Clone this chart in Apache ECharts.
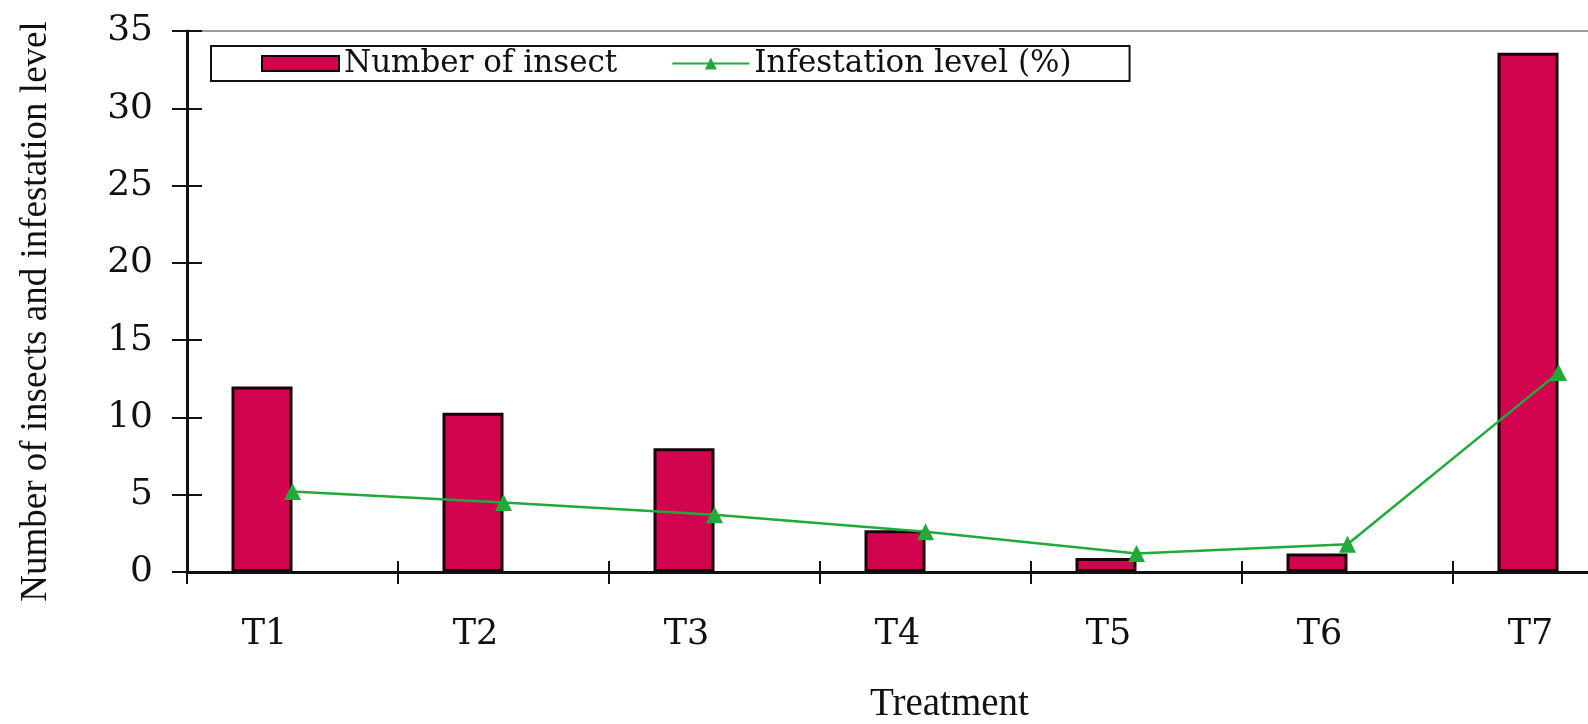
<!DOCTYPE html>
<html>
<head>
<meta charset="utf-8">
<script src="https://cdn.jsdelivr.net/npm/echarts@6/dist/echarts.min.js"></script>
<style>
  html, body { margin: 0; padding: 0; background: #ffffff; overflow: hidden; }
  /* the plot runs past the right edge of the page, so the last band is cut */
  #chart { width: 1664px; height: 724px; }
</style>
</head>
<body>
<div id="chart"></div>
<script>
// Treatments on the horizontal axis
const categories = ['T1', 'T2', 'T3', 'T4', 'T5', 'T6', 'T7'];
// Number of insects per treatment
const insectCounts = [12.0, 10.3, 8.0, 2.7, 0.9, 1.2, 33.6];
// Infestation level (%) per treatment
const infestationLevels = [5.2, 4.5, 3.7, 2.6, 1.2, 1.8, 12.9];
// Value axis range
const yMin = 0, yMax = 35, yStep = 5;

const serif = 'Liberation Serif';
const wideSerif = 'DejaVu Serif';
const barColor = '#D2044F';
const lineColor = '#1FAA3A';

const chart = echarts.init(document.getElementById('chart'));

chart.setOption({
  backgroundColor: '#ffffff',
  animation: false,
  grid: {
    left: 187, right: 0, top: 31, bottom: 152,
    containLabel: false,
    outerBoundsMode: 'none',
    show: true, borderColor: '#9a9a9a', borderWidth: 2, backgroundColor: 'transparent'
  },
  legend: {
    data: [
      { name: 'Number of insect', icon: 'rect' },
      { name: 'Infestation level (%)' }
    ],
    left: 211, top: 46,
    orient: 'horizontal',
    padding: [2, 58, 2, 50],
    itemGap: 54,
    itemWidth: 77, itemHeight: 15,
    borderColor: '#111', borderWidth: 2,
    backgroundColor: '#fff',
    textStyle: { fontFamily: wideSerif, fontSize: 31, color: '#111', lineHeight: 31 }
  },
  xAxis: [{
    type: 'category',
    data: categories,
    boundaryGap: true,
    name: 'Treatment',
    nameLocation: 'middle',
    nameGap: 113,
    nameTextStyle: { fontFamily: serif, fontSize: 39, color: '#111', padding: [0, 0, 0, 48] },
    axisLine: { show: true, lineStyle: { color: '#111', width: 3 } },
    axisTick: { show: true, inside: false, length: 12, lineStyle: { color: '#111', width: 2 } },
    axisLabel: { fontFamily: wideSerif, fontSize: 35, color: '#111', margin: 45, padding: [0, 56, 0, 0] },
    splitLine: { show: false }
  }, {
    // inner half of the crossing tick marks
    type: 'category',
    data: categories,
    position: 'bottom',
    boundaryGap: true,
    axisLine: { show: false },
    axisTick: { show: true, inside: true, length: 11, lineStyle: { color: '#111', width: 2 } },
    axisLabel: { show: false },
    splitLine: { show: false }
  }],
  yAxis: [{
    type: 'value',
    min: yMin, max: yMax, interval: yStep,
    name: 'Number of insects and infestation level',
    nameLocation: 'middle',
    nameGap: 132,
    nameRotate: 90,
    nameTextStyle: { fontFamily: serif, fontSize: 37, color: '#111', padding: [0, 20, 0, 0] },
    axisLine: { show: true, lineStyle: { color: '#111', width: 3 } },
    axisTick: { show: true, inside: false, length: 15, lineStyle: { color: '#111', width: 2 } },
    axisLabel: { fontFamily: wideSerif, fontSize: 36, color: '#111', margin: 34 },
    splitLine: { show: false }
  }, {
    // inner half of the crossing tick marks
    type: 'value',
    position: 'left',
    min: yMin, max: yMax, interval: yStep,
    axisLine: { show: false },
    axisTick: { show: true, inside: true, length: 15, lineStyle: { color: '#111', width: 2 } },
    axisLabel: { show: false },
    splitLine: { show: false }
  }],
  series: [{
    name: 'Number of insect',
    type: 'bar',
    data: insectCounts,
    barWidth: 61,
    barGap: '0%',
    itemStyle: { color: barColor, borderColor: '#1a0008', borderWidth: 3 }
  }, {
    // empty companion slot: keeps each bar to the left half of its pair
    type: 'bar',
    data: categories.map(() => null),
    barWidth: 61,
    barGap: '0%',
    silent: true
  }, {
    name: 'Infestation level (%)',
    type: 'line',
    data: infestationLevels,
    symbol: 'triangle',
    symbolSize: 17,
    z: 5,
    lineStyle: { color: lineColor, width: 2.5 },
    itemStyle: { color: lineColor }
  }]
});
</script>
</body>
</html>
